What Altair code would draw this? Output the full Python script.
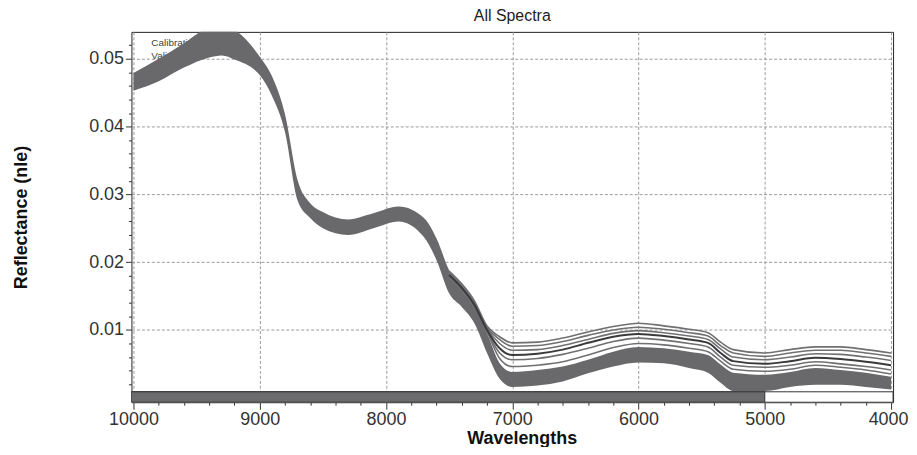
import altair as alt
import pandas as pd

FONT = "Liberation Sans"

# wavenumbers (cm-1) at which the spectra were read
wn = [10000, 9800, 9600, 9400, 9300, 9200, 9000, 8900, 8800, 8700, 8600, 8500,
      8300, 8100, 7900, 7700, 7600, 7500, 7400, 7300, 7200, 7100, 7000, 6800,
      6600, 6400, 6200, 6000, 5800, 5600, 5450, 5350, 5250, 5000, 4800, 4600,
      4400, 4200, 4000]

# lower / upper edge of the dense (overlapping) bundle of spectra
band_lo = [0.0453, 0.0467, 0.0487, 0.0502, 0.0505, 0.0499, 0.0476, 0.0444, 0.0392, 0.0291,
           0.0265, 0.0250, 0.0240, 0.0250, 0.0260, 0.0237, 0.0203, 0.0154, 0.0134, 0.0110,
           0.0066, 0.0028, 0.0016, 0.0018, 0.0024, 0.0036, 0.0046, 0.0052, 0.0051, 0.0044,
           0.0037, 0.0022, 0.0010, 0.0010, 0.0016, 0.0019, 0.0019, 0.0016, 0.0012]
band_hi = [0.0479, 0.0500, 0.0523, 0.0547, 0.0551, 0.0543, 0.0503, 0.0473, 0.0418, 0.0321,
           0.0287, 0.0274, 0.0263, 0.0272, 0.0282, 0.0265, 0.0235, 0.0188, 0.0160, 0.0134,
           0.0095, 0.0051, 0.0038, 0.0041, 0.0046, 0.0056, 0.0068, 0.0075, 0.0073, 0.0068,
           0.0063, 0.0049, 0.0037, 0.0034, 0.0038, 0.0044, 0.0041, 0.0037, 0.0031]

# individual spectra that separate from the bundle below 7500 cm-1
wn_r = [7500, 7400, 7300, 7200, 7100, 7000, 6800, 6600, 6400, 6200, 6000, 5800,
        5600, 5450, 5350, 5250, 5000, 4800, 4600, 4400, 4200, 4000]
spec_top = [0.0187, 0.0168, 0.0143, 0.0106, 0.0090, 0.0081, 0.0082, 0.0088, 0.0097, 0.0105, 0.0110,
            0.0106, 0.0101, 0.0096, 0.0082, 0.0071, 0.0066, 0.0071, 0.0075, 0.0075, 0.0071, 0.0066]
spec_a = [0.0185, 0.0166, 0.0141, 0.0104, 0.0086, 0.0076, 0.0077, 0.0083, 0.0092, 0.0100, 0.0104,
          0.0101, 0.0096, 0.0091, 0.0077, 0.0066, 0.0061, 0.0066, 0.0070, 0.0070, 0.0066, 0.0061]
spec_b = [0.0183, 0.0164, 0.0139, 0.0102, 0.0080, 0.0070, 0.0071, 0.0077, 0.0086, 0.0095, 0.0099,
          0.0096, 0.0091, 0.0086, 0.0072, 0.0060, 0.0056, 0.0060, 0.0065, 0.0064, 0.0060, 0.0055]
spec_c = [0.0181, 0.0162, 0.0137, 0.0100, 0.0073, 0.0063, 0.0065, 0.0071, 0.0081, 0.0090, 0.0094,
          0.0091, 0.0086, 0.0081, 0.0066, 0.0054, 0.0050, 0.0054, 0.0059, 0.0057, 0.0053, 0.0048]
spec_d = [0.0179, 0.0160, 0.0135, 0.0099, 0.0066, 0.0056, 0.0058, 0.0064, 0.0073, 0.0083, 0.0088,
          0.0085, 0.0080, 0.0075, 0.0060, 0.0048, 0.0045, 0.0048, 0.0053, 0.0050, 0.0046, 0.0041]
spec_e = [0.0177, 0.0158, 0.0133, 0.0097, 0.0058, 0.0046, 0.0048, 0.0053, 0.0063, 0.0074, 0.0080,
          0.0078, 0.0073, 0.0068, 0.0054, 0.0042, 0.0039, 0.0042, 0.0048, 0.0045, 0.0041, 0.0035]

# region selector bar at the bottom
bar_sel = [10016, 5000]
bar_all = [10016, 3984]
bar_v = [-0.00066, 0.00088]

x_domain = [10016, 3984]
y_domain = [-0.00066, 0.05397]

x_ticks = [10000, 9800, 9600, 9400, 9200, 9000, 8800, 8600, 8400, 8200, 8000,
           7800, 7600, 7400, 7200, 7000, 6800, 6600, 6400, 6200, 6000,
           5800, 5600, 5400, 5200, 5000, 4800, 4600, 4400, 4200, 4000]
y_ticks = [0.002, 0.004, 0.006, 0.008, 0.010, 0.012, 0.014, 0.016, 0.018, 0.020,
           0.022, 0.024, 0.026, 0.028, 0.030, 0.032, 0.034, 0.036, 0.038, 0.040,
           0.042, 0.044, 0.046, 0.048, 0.050, 0.052]

chart_title = "All Spectra"
legend_labels = ["Calibration", "Validation"]

x_major = "datum.value % 1000 == 0"
y_major = "abs(datum.value * 100 - round(datum.value * 100)) < 0.001"

x_axis = alt.Axis(
    values=x_ticks, title="Wavelengths", titleFont=FONT, titleFontSize=18,
    titleFontWeight="bold", titleColor="#111", titleX=392, titleY=41,
    titleBaseline="alphabetic", titleAlign="center",
    labelFont=FONT, labelFontSize=18, labelColor="#333", labelPadding=1,
    labelFlush=False, labelOverlap=False,
    labelOffset={"condition": {"test": "datum.value == 4000", "value": -3}, "value": 0},
    labelExpr=f"{x_major} ? format(datum.value, 'd') : ''",
    tickColor="#333", tickSize={"condition": {"test": x_major, "value": 7}, "value": 3},
    grid=True, gridColor="#9a9a9a", gridDash=[3, 2],
    gridOpacity={"condition": {"test": x_major, "value": 1}, "value": 0},
    domain=False,
)
y_axis = alt.Axis(
    values=y_ticks, title="Reflectance (nle)", titleFont=FONT, titleFontSize=18,
    titleFontWeight="bold", titleColor="#111", titleAngle=270, titleX=-110, titleY=186,
    titleBaseline="middle", titleAlign="center",
    labelFont=FONT, labelFontSize=18, labelColor="#333", labelPadding=2,
    labelFlush=False, labelOverlap=False,
    labelExpr=f"{y_major} ? format(datum.value, '.2f') : ''",
    tickColor="#333", tickSize={"condition": {"test": y_major, "value": 6}, "value": 3},
    grid=True, gridColor="#9a9a9a", gridDash=[3, 2],
    gridOpacity={"condition": {"test": y_major, "value": 1}, "value": 0},
    domain=False,
)
xs = alt.Scale(domain=x_domain, nice=False, zero=False)
ys = alt.Scale(domain=y_domain, nice=False, zero=False)


def X(f):
    return alt.X(f, type="quantitative", scale=xs, axis=x_axis)


def Y(f):
    return alt.Y(f, type="quantitative", scale=ys, axis=y_axis)


band_df = pd.DataFrame({"wn": wn, "lo": band_lo, "hi": band_hi})
rows = []
for name, vals in [("top", spec_top), ("a", spec_a), ("b", spec_b), ("d", spec_d), ("e", spec_e)]:
    for w, v in zip(wn_r, vals):
        rows.append({"wn": w, "v": v, "s": name})
light_df = pd.DataFrame(rows)
dark_df = pd.DataFrame({"wn": wn_r, "v": spec_c})
box_df = pd.DataFrame({"x1": [bar_all[0]], "x2": [bar_all[1]], "y1": [bar_v[0]], "y2": [bar_v[1]]})
sel_df = pd.DataFrame({"x1": [bar_sel[0]], "x2": [bar_sel[1]], "y1": [bar_v[0]], "y2": [bar_v[1]]})

title_txt = alt.Chart(pd.DataFrame({"t": [chart_title]})).mark_text(
    font=FONT, fontSize=16, color="#222", align="center", baseline="alphabetic"
).encode(x=alt.value(382.5), y=alt.value(-11), text="t:N")

leg1 = alt.Chart(pd.DataFrame({"t": [legend_labels[0]]})).mark_text(
    font=FONT, fontSize=10, color="#444", align="left", baseline="alphabetic"
).encode(x=alt.value(20), y=alt.value(14), text="t:N")
leg2 = alt.Chart(pd.DataFrame({"t": [legend_labels[1]]})).mark_text(
    font=FONT, fontSize=10, color="#444", align="left", baseline="alphabetic"
).encode(x=alt.value(20), y=alt.value(27), text="t:N")

band = alt.Chart(band_df).mark_area(
    interpolate="monotone", color="#69696b", clip=True
).encode(x=X("wn"), y=Y("lo"), y2="hi")

light = alt.Chart(light_df).mark_line(
    interpolate="monotone", color="#707072", strokeWidth=1.6, clip=True
).encode(x=X("wn"), y=Y("v"), detail="s:N")

dark = alt.Chart(dark_df).mark_line(
    interpolate="monotone", color="#3a3a3c", strokeWidth=2, clip=True
).encode(x=X("wn"), y=Y("v"))

box = alt.Chart(box_df).mark_rect(
    fill="white", stroke="#333", strokeWidth=1, clip=True
).encode(x=X("x1"), x2="x2", y=Y("y1"), y2="y2")

sel = alt.Chart(sel_df).mark_rect(
    fill="#6b6b6d", stroke="#333", strokeWidth=1, clip=True
).encode(x=X("x1"), x2="x2", y=Y("y1"), y2="y2")

chart = alt.layer(leg1, leg2, band, light, dark, box, sel, title_txt).properties(
    width=765, height=372,
    autosize=alt.AutoSizeParams(type="none"),
    padding={"left": 124, "top": 23, "right": 16, "bottom": 44},
    background="white",
).configure_view(stroke="#222", strokeWidth=1)

chart.save("out.html", embed_options={"renderer": "svg", "actions": False})
